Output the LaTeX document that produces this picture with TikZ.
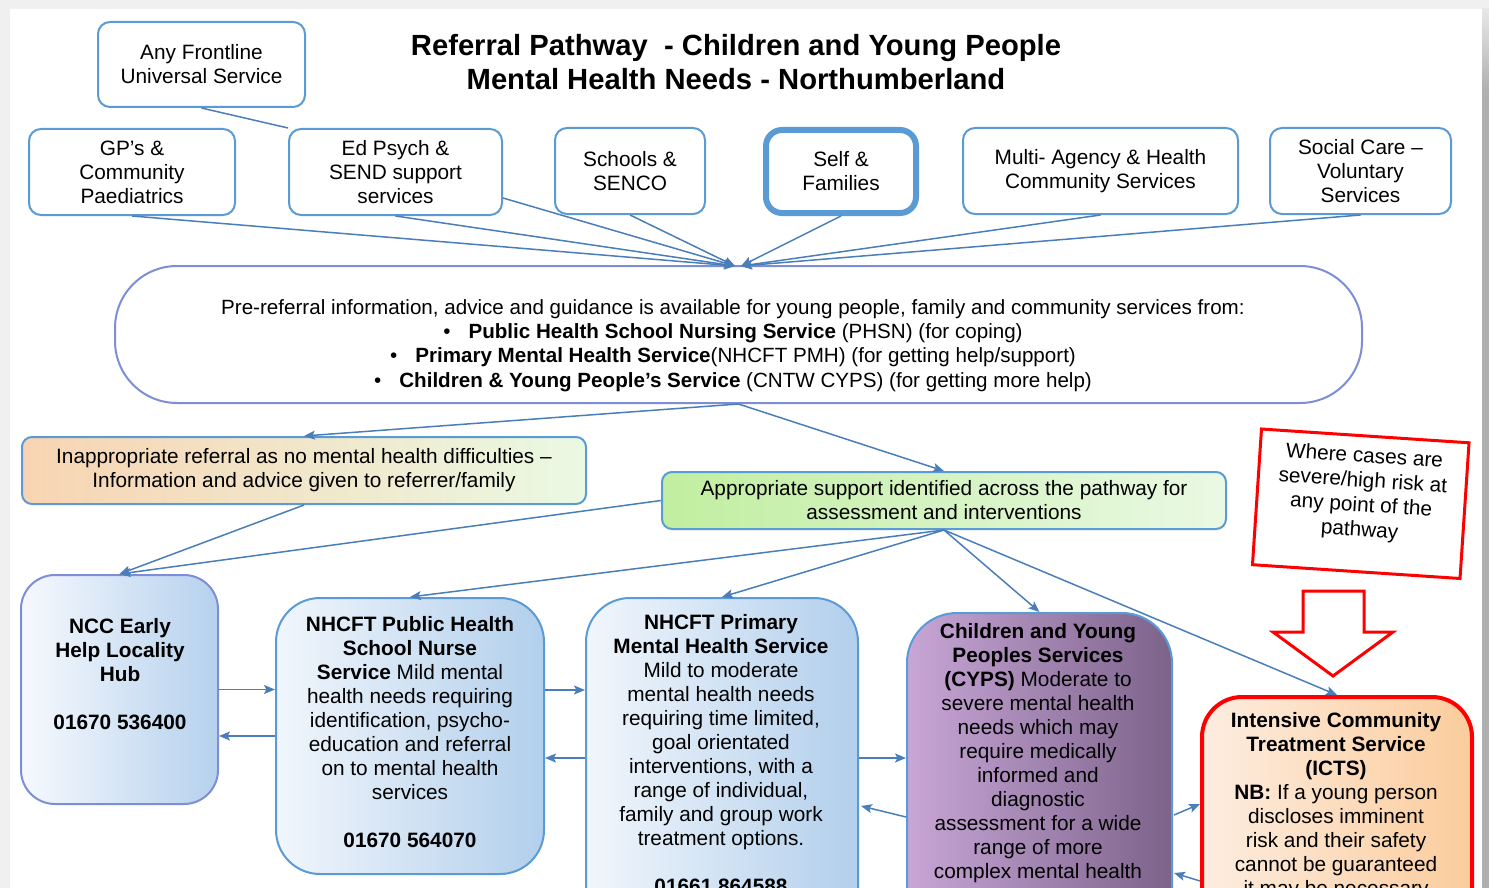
\documentclass[tikz,border=0pt]{standalone}
\usepackage{fontspec}
\setmainfont{Liberation Sans}
\usetikzlibrary{arrows.meta,calc,shapes.geometric}
\definecolor{boxblue}{RGB}{91,155,213}
\definecolor{peri}{RGB}{125,142,215}
\definecolor{arrowc}{RGB}{74,126,187}
\newcommand\myfz{\fontsize{10.4}{12}\selectfont}
\newcommand\myriskfz{\fontsize{10.4}{12.3}\selectfont}
\newcommand\mytitlefz{\fontsize{14.6}{17}\selectfont}
\newcommand\myprefz{\fontsize{10.3}{12.2}\selectfont}
\tikzset{
  topbox/.style={draw=boxblue, line width=1pt, rounded corners=6pt, fill=white, align=center, font=\myfz, inner sep=2pt},
  bigbox/.style={line width=1pt, inner sep=0pt},
  txt/.style={align=center, font=\myfz, inner sep=0pt},
  arr/.style={draw=arrowc, line width=0.75pt, -{Stealth[length=5.5pt,width=4.5pt,inset=1.2pt]}},
  plainline/.style={draw=arrowc, line width=0.75pt}
}
\begin{document}
\begin{tikzpicture}[x=0.5pt,y=-0.5pt]
\useasboundingbox (0,0) rectangle (1489,888);
\clip (0,0) rectangle (1489,888);
% page background
\fill[gray!12] (0,0) rectangle (1489,888);
\fill[white] (10,9) rectangle (1482,888);
\shade[top color=gray!18, bottom color=gray!62] (1482,9) rectangle (1489,90);
\fill[gray!62] (1482,90) rectangle (1489,888);

% title
\node[align=center, font=\mytitlefz\bfseries, inner sep=0pt] (title) at (736,62) {Referral Pathway\ \ - Children and Young People\\Mental Health Needs - Northumberland};

% top row
\node[topbox, minimum width=103.5pt, minimum height=42.5pt] (af) at (201.5,64.5) {Any Frontline\\Universal Service};
\node[topbox, minimum width=103pt, minimum height=43pt] (gp) at (132,172) {GP’s \&\\Community\\Paediatrics};
\node[topbox, minimum width=106.5pt, minimum height=43pt] (ed) at (395.5,172) {Ed Psych \&\\SEND support\\services};
\node[topbox, minimum width=75pt, minimum height=43pt] (sc) at (630,171) {Schools \&\\SENCO};
\node[topbox, line width=3pt, rounded corners=8pt, minimum width=75pt, minimum height=41.5pt] (sf) at (841,171.5) {Self \&\\Families};
\node[topbox, minimum width=137.5pt, minimum height=43pt] (ma) at (1100.5,171) {Multi- Agency \& Health\\Community Services};
\node[topbox, minimum width=90.5pt, minimum height=43pt] (soc) at (1360.5,171) {Social Care –\\Voluntary\\Services};

% pre-referral
\node[bigbox, draw=peri, fill=white, rounded corners=31pt, minimum width=623.5pt, minimum height=68.5pt] (pre) at (738.5,334.5) {};
\node[align=center, font=\myprefz, inner sep=0pt] (pretxt) at (733,345.5) {Pre-referral information, advice and guidance is available for young people, family and community services from:\\
•\hspace{9pt}\textbf{Public Health School Nursing Service} (PHSN) (for coping)\\
•\hspace{9pt}\textbf{Primary Mental Health Service}(NHCFT PMH) (for getting help/support)\\
•\hspace{9pt}\textbf{Children \& Young People’s Service} (CNTW CYPS) (for getting more help)};

% middle row
\node[bigbox, draw=boxblue, rounded corners=5pt, minimum width=282pt, minimum height=33.5pt,
  left color={rgb,255:red,248;green,212;blue,178}, middle color={rgb,255:red,214;green,244;blue,192}, right color={rgb,255:red,234;green,249;blue,227},
  align=center, font=\myfz] (inap) at (304,470.5) {Inappropriate referral as no mental health difficulties –\\Information and advice given to referrer/family};
\node[bigbox, draw=boxblue, rounded corners=5pt, minimum width=282pt, minimum height=28.5pt,
  left color={rgb,255:red,193;green,238;blue,160}, middle color={rgb,255:red,210;green,244;blue,188}, right color={rgb,255:red,234;green,249;blue,228},
  align=center, font=\myfz] (app) at (944,500.5) {Appropriate support identified across the pathway for\\assessment and interventions};

% risk box
\node[draw=red, line width=1.5pt, minimum width=104pt, minimum height=68pt, rotate=-3.8, inner sep=0pt, fill=white] (risk) at (1360.75,503.75) {};
\node[align=center, font=\myriskfz, inner sep=0pt, rotate=-3.8] (risktxt) at (1362,494) {Where cases are\\severe/high risk at\\any point of the\\pathway};
\draw[red, line width=1.5pt, fill=white, line join=miter] (1303,591) -- (1364,591) -- (1364,632) -- (1393,632) -- (1333,676) -- (1273,632) -- (1303,632) -- cycle;

% bottom row
\node[bigbox, draw=peri, rounded corners=17pt, minimum width=98.5pt, minimum height=114.5pt,
  left color={rgb,255:red,246;green,249;blue,254}, right color={rgb,255:red,182;green,209;blue,237}] (ncc) at (119.5,689.5) {};
\node[txt, font=\myfz\bfseries] (ncctxt) at (120,674.5) {NCC Early\\Help Locality\\Hub\\[12pt]01670 536400};

\node[bigbox, draw=boxblue, rounded corners=22pt, minimum width=134pt, minimum height=138pt,
  left color={rgb,255:red,241;green,246;blue,252}, right color={rgb,255:red,178;green,207;blue,236}] (ph) at (410,736) {};
\node[txt] (phtxt) at (410,732) {\textbf{NHCFT Public Health}\\\textbf{School Nurse}\\\textbf{Service} Mild mental\\health needs requiring\\identification, psycho-\\education and referral\\on to mental health\\services\\[12pt]\textbf{01670 564070}};

\node[bigbox, draw=boxblue, rounded corners=22pt, minimum width=136pt, minimum height=191pt,
  left color={rgb,255:red,241;green,246;blue,252}, right color={rgb,255:red,178;green,207;blue,236}] (pr) at (722,789) {};
\node[txt] (prtxt) at (721,754) {\textbf{NHCFT Primary}\\\textbf{Mental Health Service}\\Mild to moderate\\mental health needs\\requiring time limited,\\goal orientated\\interventions, with a\\range of individual,\\family and group work\\treatment options.\\[12pt]\textbf{01661 864588}};

\node[bigbox, draw=boxblue, rounded corners=25pt, minimum width=132.5pt, minimum height=183.5pt,
  left color={rgb,255:red,200;green,166;blue,215}, right color={rgb,255:red,124;green,99;blue,138}] (cy) at (1039.5,796.5) {};
\node[txt] (cytxt) at (1038,753.5) {\textbf{Children and Young}\\\textbf{Peoples Services}\\\textbf{(CYPS)} Moderate to\\severe mental health\\needs which may\\require medically\\informed and\\diagnostic\\assessment for a wide\\range of more\\complex mental health};

\node[bigbox, draw=red, line width=2pt, rounded corners=20pt, minimum width=135pt, minimum height=141.5pt,
  left color={rgb,255:red,253;green,237;blue,224}, right color={rgb,255:red,251;green,204;blue,156}] (ic) at (1337,838.5) {};
\node[txt] (ictxt) at (1336,806) {\textbf{Intensive Community}\\\textbf{Treatment Service}\\\textbf{(ICTS)}\\\textbf{NB:} If a young person\\discloses imminent\\risk and their safety\\cannot be guaranteed\\it may be necessary};

% connectors: top row to pre-referral
\coordinate (convL) at (735,266);
\coordinate (convR) at (741,266);
\coordinate (edr) at ($(ed.south east)+(0,-18)$);
\draw[plainline] (af.south) -- (ed.north west);
\draw[arr] (gp.south) -- (convL);
\draw[arr] (ed.south) -- (convL);
\draw[arr] (edr) -- (convL);
\draw[arr] (sc.south) -- (convL);
\draw[arr] (sf.south) -- (convR);
\draw[arr] (ma.south) -- (convR);
\draw[arr] (soc.south) -- (convR);

% pre-referral to middle row
\draw[arr] (pre.south) -- (inap.north);
\draw[arr] (pre.south) -- (app.north);
\draw[arr] (inap.south) -- (ncc.north);
\draw[arr] (app.west) -- (ncc.north);

% appropriate to services
\draw[arr] (app.south) -- (ph.north);
\draw[arr] (app.south) -- (pr.north);
\draw[arr] (app.south) -- (cy.north);
\draw[arr] (app.south) -- (ic.north);

% lateral arrows
\draw[arr] (ncc.east) -- (ncc.east -| ph.west);
\draw[arr] (ph.west) -- (ph.west -| ncc.east);
\coordinate (p1) at ($(ph.east)+(0,-46)$);
\draw[arr] (p1) -- (p1 -| pr.west);
\coordinate (p2) at ($(pr.north west)+(0,161)$);
\draw[arr] (p2) -- (p2 -| ph.east);
\coordinate (p3) at ($(pr.north east)+(0,161)$);
\draw[arr] (p3) -- (p3 -| cy.west);
\coordinate (p4) at ($(cy.north west)+(0,205)$);
\coordinate (p5) at ($(pr.north east)+(2,209)$);
\draw[arr] (p4) -- (p5);
\coordinate (p6) at ($(cy.north east)+(1,203)$);
\coordinate (p7) at ($(ic.north west)+(0,109)$);
\draw[arr] (p6) -- (p7);
\coordinate (p8) at ($(ic.north west)+(0,186)$);
\coordinate (p9) at ($(cy.north east)+(1,261)$);
\draw[arr] (p8) -- (p9);
\end{tikzpicture}
\end{document}
